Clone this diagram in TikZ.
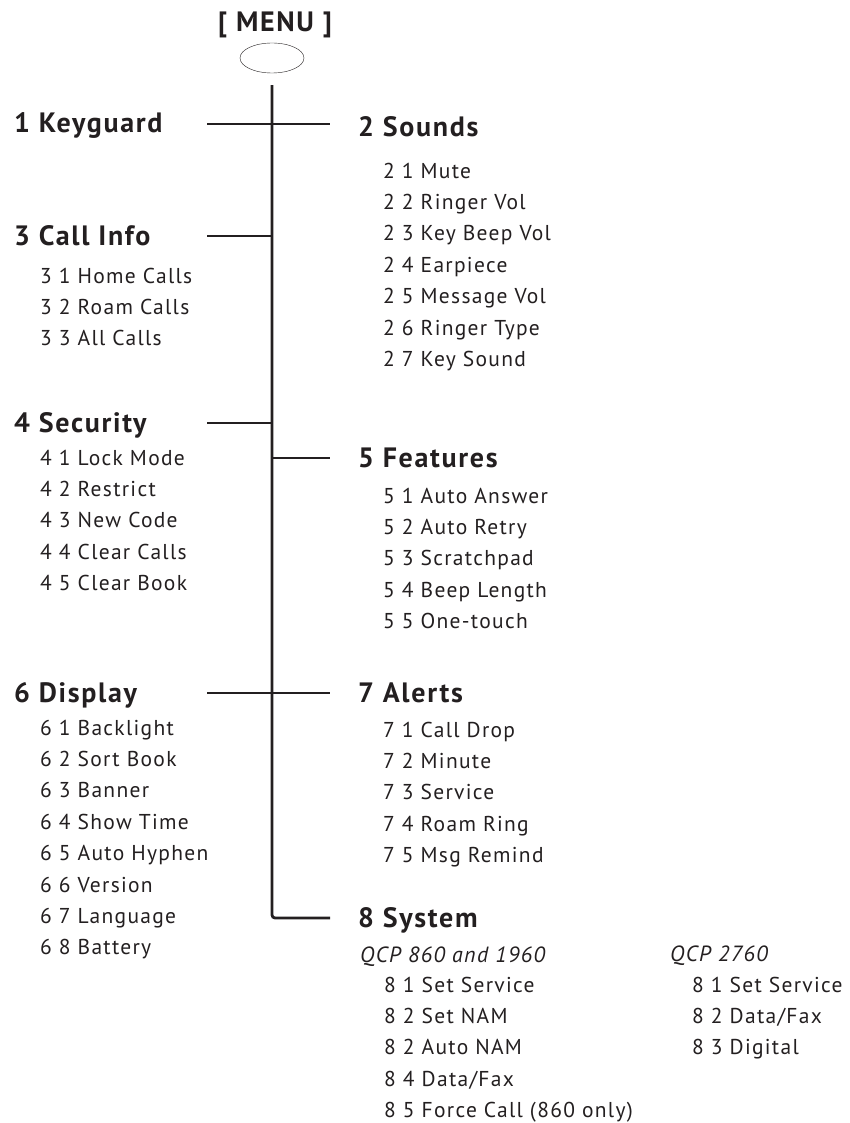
\documentclass[tikz,border=0pt]{standalone}
\usepackage{fontspec}
\setmainfont{PT Sans}[LetterSpace=6]
\usetikzlibrary{shapes.geometric, positioning}
\definecolor{inkColor}{RGB}{35,31,32}
\tikzset{heading/.style={font=\fontsize{28}{32}\selectfont\bfseries, text=inkColor, inner sep=0pt, text height=18pt, text depth=0pt, anchor=base west}}
\tikzset{entries/.style={font=\fontsize{21.5}{31.4}\selectfont, text=inkColor, align=left, inner sep=0pt, anchor=north west}}
\tikzset{model/.style={font=\fontsize{22}{31.4}\selectfont\itshape, text=inkColor, inner sep=0pt, anchor=base west}}
\tikzstyle{wire} = [line width=2.8pt, draw=inkColor]

\begin{document}
\begin{tikzpicture}[x=1pt, y=-1pt]
	\useasboundingbox (0,0) rectangle (850,1123);
	% Nodes
		\node (menutitle) [heading, anchor=base] at (275,32) {[ MENU ]};
		\node (menukey) [ellipse, draw=inkColor, thin, minimum width=64pt, minimum height=30pt, inner sep=0pt] at (272,58) {};

		\node (keyguard) [heading] at (14,133) {1 Keyguard};
		\node (sounds) [heading] at (358,137) {2 Sounds};
		\node (soundlist) [entries] at (383,162.5) {2 1 Mute\\ 2 2 Ringer Vol\\ 2 3 Key Beep Vol\\ 2 4 Earpiece\\ 2 5 Message Vol\\ 2 6 Ringer Type\\ 2 7 Key Sound};

		\node (callinfo) [heading] at (14,245) {3 Call Info};
		\node (calllist) [entries] at (40,267.5) {3 1 Home Calls\\ 3 2 Roam Calls\\ 3 3 All Calls};

		\node (security) [heading] at (14,432) {4 Security};
		\node (securelist) [entries] at (40,449.5) {4 1 Lock Mode\\ 4 2 Restrict\\ 4 3 New Code\\ 4 4 Clear Calls\\ 4 5 Clear Book};

		\node (features) [heading] at (358,467) {5 Features};
		\node (featurelist) [entries] at (383,487.5) {5 1 Auto Answer\\ 5 2 Auto Retry\\ 5 3 Scratchpad\\ 5 4 Beep Length\\ 5 5 One-touch};

		\node (display) [heading] at (14,702) {6 Display};
		\node (displaylist) [entries] at (40,719.5) {6 1 Backlight\\ 6 2 Sort Book\\ 6 3 Banner\\ 6 4 Show Time\\ 6 5 Auto Hyphen\\ 6 6 Version\\ 6 7 Language\\ 6 8 Battery};

		\node (alerts) [heading] at (358,702) {7 Alerts};
		\node (alertlist) [entries] at (383,721.5) {7 1 Call Drop\\ 7 2 Minute\\ 7 3 Service\\ 7 4 Roam Ring\\ 7 5 Msg Remind};

		\node (system) [heading] at (358,927) {8 System};
		\node (qcpsmall) [model] at (360,962) {QCP 860 and 1960};
		\node (systemlist) [entries] at (384,976.5) {8 1 Set Service\\ 8 2 Set NAM\\ 8 2 Auto NAM\\ 8 4 Data/Fax\\ 8 5 Force Call (860 only)};
		\node (qcplarge) [model] at (670,961) {QCP 2760};
		\node (digitallist) [entries] at (692,976.5) {8 1 Set Service\\ 8 2 Data/Fax\\ 8 3 Digital};

		\coordinate (spinetop) at ([yshift=-12pt]menukey.south);
		\coordinate (leftstub) at (207,0);
		\coordinate (rightstub) at (330,0);

		% Connectors
		\draw [wire, rounded corners=3pt] (spinetop) |- (system.west -| rightstub);
		\draw [wire] (keyguard.east -| leftstub) -- (keyguard.east -| rightstub);
		\draw [wire] (callinfo.east -| leftstub) -- (callinfo.east -| spinetop);
		\draw [wire] (security.east -| leftstub) -- (security.east -| spinetop);
		\draw [wire] (features.west -| spinetop) -- (features.west -| rightstub);
		\draw [wire] (display.east -| leftstub) -- (display.east -| rightstub);
\end{tikzpicture}
\end{document}
